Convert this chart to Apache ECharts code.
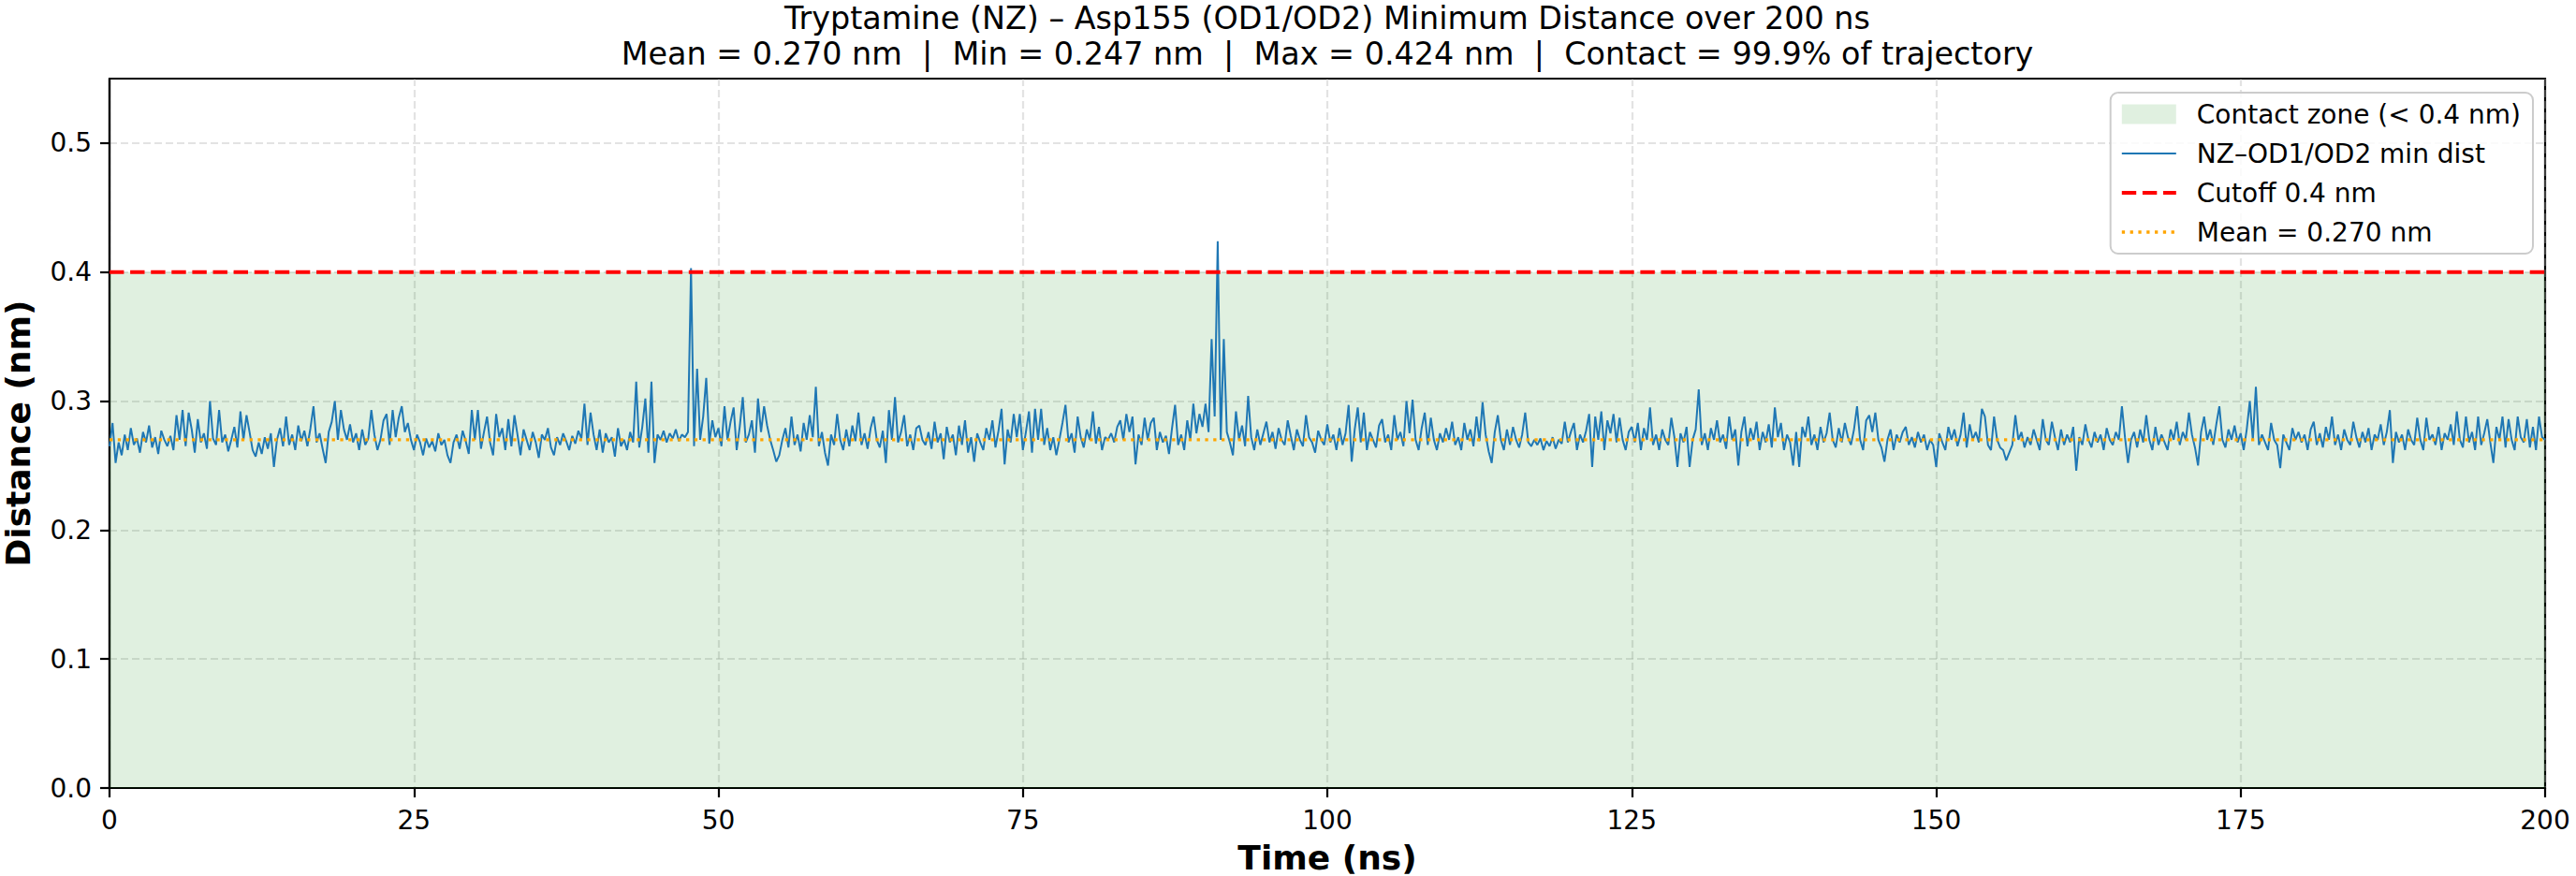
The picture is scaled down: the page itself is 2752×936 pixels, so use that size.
<!DOCTYPE html>
<html>
<head>
<meta charset="utf-8">
<script src="https://cdn.jsdelivr.net/npm/echarts@6/dist/echarts.min.js"></script>
<style>
html,body{margin:0;padding:0;background:#fff;}
#chart{width:2752px;height:936px;}
</style>
</head>
<body>
<div id="chart"></div>
<script>
// ---- data ----
const timeStep = 0.25; // ns between samples
const distance = [
0.265,0.283,0.252,0.268,0.258,0.274,0.262,0.279,0.266,0.271,0.260,0.276,0.268,0.281,0.264,0.272,0.259,0.277,0.270,0.265,
0.273,0.262,0.289,0.270,0.293,0.265,0.291,0.278,0.260,0.286,0.268,0.275,0.263,0.300,0.271,0.266,0.293,0.268,0.274,0.261,
0.270,0.280,0.264,0.292,0.270,0.289,0.276,0.262,0.257,0.268,0.259,0.272,0.263,0.275,0.249,0.270,0.279,0.265,0.288,0.266,
0.274,0.262,0.281,0.269,0.277,0.265,0.279,0.296,0.268,0.275,0.263,0.252,0.276,0.284,0.300,0.270,0.293,0.278,0.270,0.282,
0.268,0.275,0.262,0.278,0.266,0.271,0.293,0.274,0.262,0.270,0.285,0.290,0.266,0.293,0.272,0.287,0.296,0.276,0.283,0.270,
0.262,0.274,0.268,0.258,0.271,0.264,0.269,0.261,0.275,0.266,0.270,0.258,0.252,0.268,0.274,0.263,0.277,0.269,0.259,0.293,
0.270,0.293,0.263,0.276,0.288,0.268,0.258,0.290,0.272,0.279,0.262,0.286,0.265,0.289,0.274,0.258,0.278,0.270,0.262,0.276,
0.268,0.256,0.274,0.270,0.279,0.264,0.258,0.272,0.266,0.275,0.269,0.262,0.273,0.267,0.277,0.271,0.298,0.266,0.291,0.274,
0.262,0.278,0.260,0.275,0.268,0.272,0.257,0.279,0.265,0.270,0.262,0.276,0.268,0.315,0.264,0.280,0.302,0.260,0.315,0.252,
0.274,0.270,0.277,0.268,0.275,0.271,0.278,0.269,0.274,0.272,0.276,0.403,0.265,0.325,0.270,0.288,0.318,0.267,0.285,0.272,
0.279,0.265,0.296,0.270,0.284,0.295,0.262,0.280,0.303,0.268,0.274,0.285,0.260,0.302,0.276,0.296,0.281,0.270,0.262,0.253,
0.258,0.270,0.279,0.264,0.288,0.266,0.274,0.261,0.283,0.270,0.289,0.272,0.311,0.265,0.276,0.260,0.250,0.274,0.266,0.290,
0.270,0.262,0.278,0.265,0.281,0.269,0.291,0.266,0.275,0.263,0.279,0.288,0.270,0.264,0.277,0.252,0.293,0.270,0.303,0.268,
0.276,0.289,0.265,0.274,0.262,0.279,0.281,0.270,0.266,0.276,0.263,0.284,0.268,0.275,0.255,0.280,0.268,0.274,0.258,0.281,
0.266,0.285,0.260,0.272,0.253,0.275,0.268,0.262,0.279,0.270,0.285,0.264,0.277,0.294,0.251,0.278,0.268,0.290,0.272,0.290,
0.262,0.276,0.292,0.260,0.294,0.270,0.294,0.266,0.279,0.262,0.272,0.258,0.270,0.283,0.297,0.268,0.275,0.260,0.288,0.272,
0.264,0.278,0.270,0.292,0.267,0.280,0.262,0.272,0.270,0.275,0.268,0.280,0.285,0.270,0.290,0.276,0.288,0.251,0.274,0.266,
0.287,0.270,0.283,0.287,0.262,0.276,0.268,0.273,0.259,0.279,0.297,0.266,0.274,0.262,0.285,0.270,0.298,0.275,0.290,0.280,
0.298,0.276,0.348,0.288,0.424,0.270,0.348,0.276,0.268,0.258,0.292,0.270,0.281,0.265,0.304,0.272,0.262,0.278,0.266,0.275,
0.284,0.268,0.276,0.263,0.279,0.270,0.266,0.285,0.273,0.262,0.278,0.270,0.265,0.289,0.272,0.268,0.260,0.277,0.270,0.266,
0.282,0.268,0.274,0.262,0.279,0.266,0.275,0.297,0.253,0.278,0.295,0.268,0.291,0.262,0.276,0.270,0.264,0.281,0.286,0.268,
0.274,0.262,0.289,0.270,0.276,0.265,0.300,0.275,0.301,0.270,0.262,0.279,0.291,0.266,0.287,0.270,0.262,0.275,0.268,0.279,
0.270,0.284,0.266,0.272,0.262,0.283,0.270,0.278,0.265,0.288,0.269,0.299,0.274,0.261,0.252,0.276,0.289,0.270,0.262,0.278,
0.266,0.280,0.270,0.264,0.274,0.291,0.268,0.265,0.270,0.266,0.271,0.262,0.269,0.265,0.272,0.263,0.270,0.267,0.284,0.268,
0.276,0.283,0.262,0.274,0.268,0.277,0.290,0.249,0.288,0.270,0.292,0.262,0.285,0.275,0.290,0.268,0.287,0.270,0.262,0.276,
0.280,0.268,0.283,0.262,0.279,0.270,0.295,0.266,0.274,0.262,0.278,0.270,0.266,0.287,0.272,0.249,0.275,0.268,0.280,0.249,
0.270,0.278,0.309,0.266,0.275,0.262,0.279,0.270,0.285,0.268,0.274,0.263,0.288,0.270,0.278,0.250,0.276,0.288,0.265,0.279,
0.270,0.284,0.262,0.276,0.268,0.282,0.264,0.295,0.272,0.283,0.262,0.274,0.268,0.250,0.276,0.249,0.280,0.272,0.288,0.266,
0.274,0.262,0.280,0.268,0.275,0.291,0.270,0.264,0.279,0.268,0.283,0.272,0.266,0.278,0.296,0.270,0.262,0.285,0.289,0.276,
0.291,0.270,0.264,0.253,0.270,0.278,0.262,0.274,0.268,0.276,0.280,0.266,0.272,0.264,0.276,0.268,0.274,0.262,0.270,0.266,
0.249,0.275,0.268,0.262,0.280,0.270,0.278,0.265,0.274,0.291,0.264,0.282,0.270,0.276,0.268,0.294,0.288,0.266,0.262,0.288,
0.270,0.264,0.262,0.254,0.260,0.266,0.289,0.270,0.276,0.264,0.272,0.266,0.278,0.270,0.262,0.286,0.270,0.266,0.284,0.272,
0.262,0.278,0.266,0.274,0.268,0.280,0.246,0.272,0.266,0.282,0.270,0.264,0.276,0.268,0.274,0.262,0.279,0.270,0.266,0.276,
0.270,0.296,0.272,0.252,0.270,0.276,0.264,0.278,0.268,0.289,0.270,0.262,0.280,0.266,0.274,0.268,0.262,0.278,0.270,0.284,
0.266,0.276,0.270,0.291,0.274,0.264,0.250,0.276,0.288,0.270,0.278,0.266,0.282,0.296,0.270,0.264,0.278,0.270,0.281,0.268,
0.275,0.262,0.278,0.300,0.270,0.311,0.266,0.274,0.268,0.262,0.283,0.270,0.266,0.248,0.274,0.268,0.262,0.279,0.270,0.276,
0.268,0.274,0.262,0.278,0.284,0.266,0.275,0.264,0.280,0.270,0.288,0.266,0.274,0.262,0.278,0.270,0.266,0.284,0.272,0.264,
0.276,0.268,0.279,0.262,0.274,0.270,0.282,0.266,0.276,0.293,0.252,0.276,0.268,0.274,0.262,0.278,0.270,0.266,0.287,0.270,
0.262,0.287,0.270,0.274,0.266,0.280,0.262,0.275,0.270,0.282,0.266,0.292,0.270,0.264,0.288,0.268,0.276,0.262,0.288,0.266,
0.275,0.286,0.268,0.252,0.280,0.270,0.288,0.264,0.286,0.270,0.262,0.288,0.272,0.268,0.286,0.264,0.280,0.262,0.288,0.272,
0.270
];
const timeRange = [0, 200];
const cutoff = 0.4;
const meanValue = 0.270;
const xTicks = [0, 25, 50, 75, 100, 125, 150, 175, 200];
const yTicks = [0, 0.1, 0.2, 0.3, 0.4, 0.5];
const seriesNames = ['Contact zone (< 0.4 nm)', 'NZ\u2013OD1/OD2 min dist', 'Cutoff 0.4 nm', 'Mean = 0.270 nm'];
const titleText = 'Tryptamine (NZ) \u2013 Asp155 (OD1/OD2) Minimum Distance over 200 ns\nMean = 0.270 nm  |  Min = 0.247 nm  |  Max = 0.424 nm  |  Contact = 99.9% of trajectory';

// ---- build ----
const linePoints = distance.map((d, i) => [i * timeStep, d]);
const FONT = 'DejaVu Sans';
const noSymbol = {color: 'rgba(0,0,0,0)', borderWidth: 0, opacity: 0};

const blueStyle = {color: '#1f77b4', width: 2.0};
const redStyle = {color: '#ff0000', width: 4.2, type: [15.4, 6.7]};
const orangeStyle = {color: '#ffa500', width: 3.3, type: [3.3, 5.5]};

const chart = echarts.init(document.getElementById('chart'), null, {renderer: 'svg', width: 2752, height: 936});
chart.setOption({
  animation: false,
  backgroundColor: '#ffffff',
  textStyle: {fontFamily: FONT},
  title: {
    text: titleText,
    left: 1418,
    top: 0,
    padding: 0,
    textAlign: 'center',
    textStyle: {fontFamily: FONT, fontSize: 33.4, fontWeight: 'normal', color: '#000', lineHeight: 38.5}
  },
  grid: {
    left: 117, right: 33, top: 84, bottom: 94,
    show: true, borderColor: '#000', borderWidth: 2.2, backgroundColor: 'transparent',
    containLabel: false,
    outerBoundsMode: 'none'
  },
  legend: {
    orient: 'vertical',
    right: 46, top: 99,
    padding: [9, 13, 9, 10],
    itemGap: 14,
    itemWidth: 58,
    itemHeight: 21,
    backgroundColor: 'rgba(255,255,255,0.8)',
    borderColor: '#cccccc',
    borderWidth: 2,
    borderRadius: 8,
    textStyle: {fontFamily: FONT, fontSize: 28, color: '#000', lineHeight: 28, padding: [0, 0, 0, 17]},
    data: [
      {name: seriesNames[0], icon: 'rect', itemStyle: {color: 'rgba(0,128,0,0.12)', borderWidth: 0}},
      {name: seriesNames[1], itemStyle: noSymbol, lineStyle: {width: 2.0}},
      {name: seriesNames[2], itemStyle: noSymbol, lineStyle: {width: 4.2}},
      {name: seriesNames[3], itemStyle: noSymbol, lineStyle: {width: 3.3}}
    ]
  },
  xAxis: {
    type: 'value',
    min: timeRange[0], max: timeRange[1], interval: 25,
    name: 'Time (ns)',
    nameLocation: 'middle',
    nameGap: 56,
    nameTextStyle: {fontFamily: FONT, fontSize: 36, fontWeight: 'bold', color: '#000'},
    axisLine: {show: true, onZero: false, lineStyle: {color: '#000', width: 2.2}},
    axisTick: {show: true, inside: false, length: 10, lineStyle: {color: '#000', width: 2.2}, customValues: xTicks},
    axisLabel: {fontFamily: FONT, fontSize: 28, color: '#000', margin: 20, customValues: xTicks},
    splitLine: {show: true, lineStyle: {color: 'rgba(176,176,176,0.35)', width: 2.2, type: [8, 4]}}
  },
  yAxis: {
    type: 'value',
    min: 0, max: 0.55, interval: 0.1,
    name: 'Distance (nm)',
    nameLocation: 'middle',
    nameGap: 80,
    nameTextStyle: {fontFamily: FONT, fontSize: 36, fontWeight: 'bold', color: '#000'},
    axisLine: {show: true, onZero: false, lineStyle: {color: '#000', width: 2.2}},
    axisTick: {show: true, inside: false, length: 10, lineStyle: {color: '#000', width: 2.2}, customValues: yTicks},
    axisLabel: {
      fontFamily: FONT, fontSize: 28, color: '#000', margin: 19, customValues: yTicks,
      formatter: v => (v > 0.5001 ? '' : v.toFixed(1))
    },
    splitLine: {show: true, lineStyle: {color: 'rgba(176,176,176,0.35)', width: 2.2, type: [8, 4]}}
  },
  series: [
    {
      name: seriesNames[0], type: 'line', symbol: 'none', silent: true,
      data: [[timeRange[0], cutoff], [timeRange[1], cutoff]],
      lineStyle: {width: 0, opacity: 0},
      itemStyle: {color: 'rgba(0,128,0,0.12)'},
      areaStyle: {color: 'rgba(0,128,0,0.12)', opacity: 1, origin: 'start'},
      z: 1
    },
    {
      name: seriesNames[1], type: 'line', symbol: 'none', sampling: null,
      data: linePoints,
      lineStyle: blueStyle,
      itemStyle: {color: '#1f77b4'},
      z: 2
    },
    {
      name: seriesNames[2], type: 'line', symbol: 'none',
      data: [[timeRange[0], cutoff], [timeRange[1], cutoff]],
      lineStyle: redStyle,
      itemStyle: {color: '#ff0000'},
      z: 3
    },
    {
      name: seriesNames[3], type: 'line', symbol: 'none',
      data: [[timeRange[0], meanValue], [timeRange[1], meanValue]],
      lineStyle: orangeStyle,
      itemStyle: {color: '#ffa500'},
      z: 4
    }
  ]
});
</script>
</body>
</html>
